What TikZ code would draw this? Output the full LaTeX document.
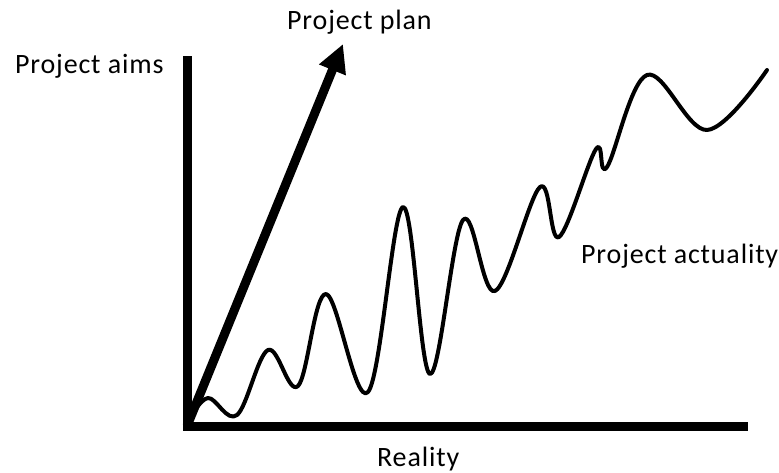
\documentclass[tikz,border=0pt]{standalone}
\usepackage{fontspec}
\setmainfont[LetterSpace=3]{Carlito}
\usetikzlibrary{arrows.meta}
\begin{document}
\begin{tikzpicture}[x=1pt,y=-1pt,
  lbl/.style={anchor=base west,inner sep=0pt,font=\fontsize{28}{34}\selectfont},
  axis/.style={line width=9pt,line join=miter},
  planarrow/.style={line width=9pt,-{Triangle[length=28pt,width=27pt]}},
  actual/.style={line width=4pt,line join=round,line cap=round}]
\useasboundingbox (0,0) rectangle (779,472);
\coordinate (top) at (187,56);
\coordinate (O) at (187,426);
\coordinate (xend) at (748,426);
\coordinate (tip) at (343,44);
\draw[axis] (top) -- (O) -- (xend);
\draw[planarrow] (O) -- (tip);
\draw[actual] plot[smooth,tension=0.6] coordinates {
 (189,420) (208,398) (237,415) (268,350) (298,386) (326,294) (368,392)
 (403,207) (430,374) (463,220) (495,291) (540,187) (559,237) (596,149)
 (607,167) (647,75) (707,130) (767,70)};
\node[lbl] (aims) at (15,73) {Project aims};
\node[lbl] (plan) at (287,29) {Project plan};
\node[lbl] (actuality) at (581,263) {Project actuality};
\node[lbl] (reality) at (377,466) {Reality};
\end{tikzpicture}
\end{document}
